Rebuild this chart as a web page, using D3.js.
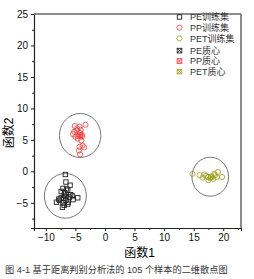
<!DOCTYPE html>
<html>
<head>
<meta charset="utf-8">
<script src="https://cdn.jsdelivr.net/npm/d3@7"></script>
</head>
<body style="margin:0;background:#fff">
<svg width="254" height="279"></svg>
<script>
// training points
const peX = [-6.7, -6.6, -5.9, -7.1, -6.3, -7.4, -6.9, -6.0, -4.6, -5.4, -7.7, -8.2, -7.1, -6.3, -7.2, -6.6, -6.8, -5.8, -7.0, -6.2, -7.4, -6.5, -5.5, -6.9, -7.8];
const peY = [-0.5, -1.7, -2.2, -2.7, -3.0, -3.2, -3.8, -4.1, -4.2, -4.5, -4.6, -4.9, -5.0, -5.2, -5.7, -4.6, -3.4, -3.7, -4.3, -4.9, -4.2, -2.8, -3.9, -5.4, -4.4];
const ppX = [-5.1, -4.3, -3.3, -4.8, -5.4, -5.0, -4.2, -3.9, -4.0, -4.6, -3.8, -4.3, -3.5, -4.4, -4.2, -4.7, -4.1, -3.9, -4.5, -5.2];
const ppY = [7.2, 7.1, 7.4, 6.5, 5.9, 5.5, 6.1, 5.5, 4.9, 5.2, 4.1, 3.9, 3.8, 3.3, 2.7, 6.8, 6.6, 5.8, 5.6, 6.3];
const petX = [14.8, 16.0, 16.8, 17.4, 18.0, 18.5, 19.1, 19.8, 18.3, 17.5, 16.5, 17.1, 18.9, 17.8, 18.6];
const petY = [-0.4, -0.6, -0.5, -0.9, -0.8, -0.4, -0.1, -0.9, -1.2, -1.4, -1.0, -0.7, -0.9, -1.1, -0.6];

// group centroids and the ring drawn round each group
const groups = ["PE", "PP", "PET"];
const centX = [-6.6, -4.2, 17.9];
const centY = [-4.0, 5.7, -0.9];
const ringX = [-6.7, -4.2, 17.8];
const ringY = [-3.9, 5.7, -0.85];
const ringR = [3.55, 3.5, 3.1];
const colors = ["#222", "#f03c3c", "#a0a020"];

const xTicks = [-10, -5, 0, 5, 10, 15, 20];
const xMinor = [-7.5, -2.5, 2.5, 7.5, 12.5, 17.5, 22.5];
const yTicks = [-5, 0, 5, 10, 15, 20, 25];
const yMinor = [-7.5, -2.5, 2.5, 7.5, 12.5, 17.5, 22.5];
const legendLabels = ["PE训练集", "PP训练集", "PET训练集", "PE质心", "PP质心", "PET质心"];

const latin = "Liberation Sans, Arial, sans-serif";
const cjk = "Liberation Sans, Noto Sans CJK SC, sans-serif";

const svg = d3.select("svg");
const mLeft = 34, mRight = 241, mTop = 14, mBottom = 228;

const x = d3.scaleLinear().domain([-12, 23]).range([mLeft, mRight]);
const y = d3.scaleLinear().domain([-9, 25]).range([mBottom, mTop]);

// axes
const xg = svg.append("g")
  .attr("transform", `translate(0,${mBottom})`)
  .call(d3.axisBottom(x).tickValues(xTicks).tickSize(3).tickPadding(3));
const yg = svg.append("g")
  .attr("transform", `translate(${mLeft},0)`)
  .call(d3.axisLeft(y).tickValues(yTicks).tickSize(3).tickPadding(3));

[xg, yg].forEach(g => {
  g.attr("font-family", latin).attr("font-size", 10);
  g.select(".domain").attr("stroke", "#222").attr("stroke-width", 1.2);
  g.selectAll(".tick line").attr("stroke", "#222");
  g.selectAll(".tick text").attr("fill", "#111");
});

// minor ticks
svg.append("g").selectAll("line")
  .data(xMinor)
  .join("line")
  .attr("x1", d => x(d) + 0.5).attr("x2", d => x(d) + 0.5)
  .attr("y1", mBottom).attr("y2", mBottom + 2)
  .attr("stroke", "#222");
svg.append("g").selectAll("line")
  .data(yMinor)
  .join("line")
  .attr("x1", mLeft - 2).attr("x2", mLeft)
  .attr("y1", d => y(d) + 0.5).attr("y2", d => y(d) + 0.5)
  .attr("stroke", "#222");

// frame: top and right in grey
svg.append("line")
  .attr("x1", mLeft).attr("x2", mRight).attr("y1", mTop).attr("y2", mTop)
  .attr("stroke", "#666").attr("stroke-width", 1.5);
svg.append("line")
  .attr("x1", mRight).attr("x2", mRight).attr("y1", mTop).attr("y2", mBottom)
  .attr("stroke", "#666").attr("stroke-width", 1.5);

// rings
svg.append("g").selectAll("ellipse")
  .data(groups)
  .join("ellipse")
  .attr("cx", (d, i) => x(ringX[i]))
  .attr("cy", (d, i) => y(ringY[i]))
  .attr("rx", (d, i) => x(ringR[i]) - x(0))
  .attr("ry", (d, i) => y(0) - y(ringR[i]))
  .attr("fill", "none")
  .attr("stroke", "#555")
  .attr("stroke-width", 0.8);

// marker shapes
function drawSquare(g, px, py, c) {
  g.append("rect").attr("x", px - 2.2).attr("y", py - 2.2)
    .attr("width", 4.4).attr("height", 4.4)
    .attr("fill", "none").attr("stroke", c).attr("stroke-width", 0.9);
}
function drawRing(g, px, py, c) {
  g.append("circle").attr("cx", px).attr("cy", py).attr("r", 2.6)
    .attr("fill", "none").attr("stroke", c).attr("stroke-width", 0.8);
}
function drawHex(g, px, py, c) {
  const corners = d3.range(6).map(k => {
    const a = Math.PI / 3 * k;
    return [px + 2.8 * Math.cos(a), py + 2.8 * Math.sin(a)];
  });
  g.append("polygon").attr("points", corners.join(" "))
    .attr("fill", "none").attr("stroke", c).attr("stroke-width", 0.8);
}
function drawCrossBox(g, px, py, c) {
  g.append("rect").attr("x", px - 2.3).attr("y", py - 2.3)
    .attr("width", 4.6).attr("height", 4.6)
    .attr("fill", "none").attr("stroke", c).attr("stroke-width", 0.9);
  g.append("path")
    .attr("d", `M${px - 2.3},${py - 2.3}L${px + 2.3},${py + 2.3}M${px + 2.3},${py - 2.3}L${px - 2.3},${py + 2.3}`)
    .attr("fill", "none").attr("stroke", c).attr("stroke-width", 0.9);
}

const marks = svg.append("g");
peX.forEach((v, i) => drawSquare(marks, x(v), y(peY[i]), colors[0]));
ppX.forEach((v, i) => drawRing(marks, x(v), y(ppY[i]), colors[1]));
petX.forEach((v, i) => drawRing(marks, x(v), y(petY[i]), colors[2]));
groups.forEach((gname, i) => drawCrossBox(marks, x(centX[i]), y(centY[i]), colors[i]));

// legend
const legend = svg.append("g");
const rowY = [17, 27.6, 38.4, 50.6, 61, 71.6];
const shapes = [drawSquare, drawRing, drawHex, drawCrossBox, drawCrossBox, drawCrossBox];
const legColors = [colors[0], colors[1], colors[2], colors[0], colors[1], colors[2]];
legendLabels.forEach((lab, i) => {
  shapes[i](legend, 179.5, rowY[i], legColors[i]);
  legend.append("text")
    .attr("x", 190).attr("y", rowY[i] + 3.3)
    .attr("font-family", cjk)
    .attr("font-size", 9).attr("fill", "#333")
    .text(lab);
});

// axis titles
svg.append("text")
  .attr("x", (mLeft + mRight) / 2 + 2).attr("y", 257)
  .attr("text-anchor", "middle").attr("font-size", 12)
  .attr("font-family", cjk)
  .text("函数1");
svg.append("text")
  .attr("transform", `translate(13,${(mTop + mBottom) / 2 + 12}) rotate(-90)`)
  .attr("text-anchor", "middle").attr("font-size", 12)
  .attr("font-family", cjk)
  .text("函数2");

// caption
svg.append("text")
  .attr("x", 5).attr("y", 273)
  .attr("font-size", 9.2).attr("fill", "#333")
  .attr("font-family", cjk)
  .text("图 4-1  基于距离判别分析法的 105 个样本的二维散点图");
</script>
</body>
</html>
